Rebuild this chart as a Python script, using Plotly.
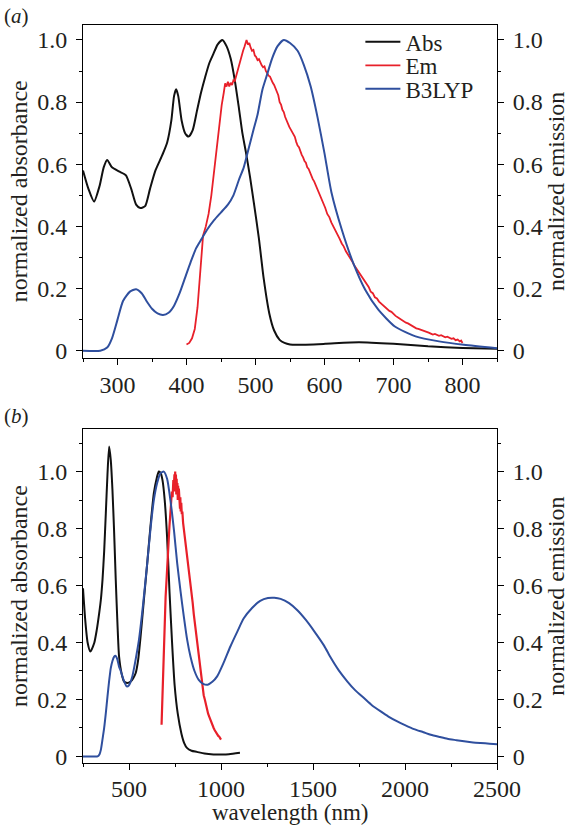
import plotly.graph_objects as go
from plotly.subplots import make_subplots

# ---------------- Panel (a) data ----------------
abs_a_x = [250, 258, 266, 274, 280, 285, 292, 302, 312, 320, 327, 333, 340, 347, 355, 365, 372, 378, 382, 385,
           388, 393, 398, 403, 409, 415, 421, 427, 433, 439, 445, 452, 458, 464, 470, 476, 481, 486, 492, 498,
           505, 512, 520, 527, 535, 542, 550, 560, 600, 650, 700, 750, 800, 850]
abs_a_y = [0.58, 0.52, 0.48, 0.53, 0.59, 0.614, 0.59, 0.577, 0.565, 0.52, 0.47, 0.459, 0.465, 0.52, 0.58, 0.63,
           0.67, 0.74, 0.82, 0.841, 0.82, 0.74, 0.70, 0.689, 0.71, 0.77, 0.83, 0.88, 0.925, 0.955, 0.985, 1.0,
           0.98, 0.94, 0.87, 0.78, 0.70, 0.64, 0.56, 0.47, 0.36, 0.23, 0.12, 0.065, 0.035, 0.025, 0.02, 0.019,
           0.022, 0.027, 0.022, 0.014, 0.009, 0.006]

em_a_x = [400, 404, 408, 412, 416, 420, 424, 428, 432, 436, 440, 444, 448, 451, 454, 456, 458, 460, 462, 464,
          466, 468, 470, 472, 474, 476, 478, 480, 482, 484, 486, 487, 489, 491, 493, 495, 497, 499, 501, 503,
          505, 507, 509, 511, 513, 515, 517, 519, 521, 523, 525, 527, 529, 531, 533, 535, 537, 539, 541, 543,
          545, 547, 549, 551, 553, 555, 557, 559, 561, 563, 565, 567, 569, 571, 573, 575, 577, 579, 581, 583,
          585, 587, 589, 591, 593, 595, 598, 601, 604, 607, 610, 613, 616, 619, 622, 625, 628, 631, 634, 637,
          640, 643, 646, 649, 652, 655, 658, 661, 664, 667, 670, 673, 676, 679, 682, 685, 688, 691, 694, 697,
          700, 703, 706, 709, 712, 715, 718, 721, 724, 727, 730, 733, 736, 739, 742, 745, 748, 751, 754, 757,
          760, 763, 766, 769, 772, 775, 778, 781, 784, 787, 790, 793, 796, 798, 800]
em_a_y = [0.02, 0.025, 0.04, 0.07, 0.14, 0.26, 0.37, 0.40, 0.44, 0.50, 0.58, 0.66, 0.74, 0.79, 0.83, 0.86, 0.85,
          0.865, 0.85, 0.862, 0.855, 0.87, 0.868, 0.885, 0.905, 0.92, 0.94, 0.952, 0.965, 0.978, 0.99, 1.0,
          0.985, 0.99, 0.975, 0.965, 0.968, 0.95, 0.945, 0.935, 0.938, 0.925, 0.918, 0.912, 0.915, 0.90, 0.892,
          0.885, 0.882, 0.87, 0.862, 0.855, 0.845, 0.83, 0.822, 0.80, 0.792, 0.775, 0.768, 0.752, 0.74, 0.728,
          0.72, 0.712, 0.705, 0.695, 0.688, 0.672, 0.66, 0.655, 0.638, 0.63, 0.622, 0.61, 0.605, 0.59, 0.585,
          0.572, 0.565, 0.552, 0.545, 0.535, 0.522, 0.515, 0.50, 0.49, 0.475, 0.46, 0.44, 0.43, 0.412, 0.40,
          0.385, 0.372, 0.36, 0.345, 0.335, 0.32, 0.31, 0.298, 0.288, 0.275, 0.265, 0.255, 0.245, 0.236, 0.225,
          0.212, 0.205, 0.19, 0.185, 0.172, 0.168, 0.158, 0.152, 0.145, 0.14, 0.135, 0.128, 0.125, 0.118, 0.112,
          0.108, 0.103, 0.10, 0.096, 0.09, 0.088, 0.084, 0.078, 0.076, 0.072, 0.07, 0.068, 0.066, 0.062, 0.06,
          0.058, 0.055, 0.052, 0.054, 0.05, 0.048, 0.05, 0.046, 0.043, 0.045, 0.04, 0.038, 0.04, 0.034, 0.036,
          0.03, 0.033, 0.025]

b3_a_x = [250, 275, 285, 292, 300, 308, 318, 327, 335, 342, 350, 358, 366, 374, 382, 390, 398, 406, 414, 422,
          430, 440, 450, 460, 468, 476, 483, 490, 497, 503, 510, 517, 524, 532, 541, 550, 561, 570, 580, 590,
          600, 610, 625, 642, 659, 678, 702, 732, 766, 802, 850]
b3_a_y = [0.0, 0.0, 0.01, 0.04, 0.10, 0.16, 0.19, 0.198, 0.185, 0.16, 0.135, 0.12, 0.115, 0.122, 0.145, 0.185,
          0.235, 0.285, 0.33, 0.36, 0.39, 0.42, 0.445, 0.47, 0.50, 0.55, 0.59, 0.65, 0.71, 0.76, 0.84, 0.89,
          0.94, 0.98, 1.0, 0.99, 0.965, 0.92, 0.85, 0.75, 0.635, 0.51, 0.39, 0.28, 0.196, 0.132, 0.078, 0.046,
          0.03, 0.019, 0.008]

# ---------------- Panel (b) data ----------------
abs_b_x = [250, 262, 275, 290, 311, 325, 338, 347, 356, 365, 374, 383, 392, 401, 410, 419, 428, 437, 446, 460,
           473, 490, 509, 523, 536, 550, 563, 581, 599, 617, 635, 650, 662, 672, 682, 694, 707, 720, 734, 748,
           765, 785, 800, 815, 840, 869, 910, 959, 1000, 1043, 1103]
abs_b_y = [0.59, 0.48, 0.40, 0.368, 0.398, 0.445, 0.503, 0.55, 0.62, 0.72, 0.854, 0.99, 1.088, 1.04, 0.936, 0.79,
           0.62, 0.47, 0.351, 0.29, 0.263, 0.258, 0.263, 0.275, 0.292, 0.34, 0.421, 0.55, 0.678, 0.81, 0.924,
           0.975, 1.0, 0.995, 0.97, 0.9, 0.77, 0.58, 0.40, 0.25, 0.15, 0.08, 0.047, 0.03, 0.02, 0.016, 0.01,
           0.007, 0.007, 0.008, 0.013]

em_b_x = [677, 681, 685, 690, 695, 699, 704, 708, 712, 716, 720, 725, 729, 733, 737, 741, 744, 747, 749, 751,
          753, 755, 757, 759, 761, 763, 765, 767, 769, 771, 773, 775, 777, 779, 781, 784, 787, 790, 794, 798,
          802, 806, 810, 816, 822, 828, 834, 840, 846, 852, 858, 864, 870, 876, 882, 888, 894, 900, 906, 912,
          918, 924, 930, 936, 942, 948, 954, 960, 966, 972, 979, 985, 990, 995, 1000]
em_b_y = [0.111, 0.20, 0.30, 0.40, 0.49, 0.561, 0.62, 0.68, 0.72, 0.77, 0.81, 0.855, 0.88, 0.93, 0.91, 0.97,
          0.95, 0.99, 0.93, 1.0, 0.95, 0.99, 0.92, 0.975, 0.93, 0.96, 0.9, 0.95, 0.91, 0.94, 0.88, 0.925, 0.87,
          0.91, 0.86, 0.89, 0.85, 0.86, 0.82, 0.80, 0.78, 0.75, 0.73, 0.70, 0.665, 0.64, 0.60, 0.575, 0.54,
          0.50, 0.47, 0.43, 0.40, 0.36, 0.33, 0.30, 0.27, 0.245, 0.215, 0.20, 0.18, 0.17, 0.15, 0.14, 0.129,
          0.115, 0.11, 0.10, 0.092, 0.085, 0.08, 0.072, 0.07, 0.062, 0.059]

b3_b_x = [250, 300, 329, 340, 347, 356, 365, 374, 383, 392, 401, 410, 419, 428, 437, 446, 455, 470, 487, 500,
          518, 536, 554, 576, 599, 617, 635, 653, 671, 689, 707, 725, 745, 762, 780, 798, 816, 834, 856, 879,
          903, 928, 953, 979, 1015, 1051, 1090, 1123, 1170, 1213, 1255, 1290, 1324, 1370, 1415, 1460, 1505,
          1560, 1596, 1640, 1687, 1730, 1777, 1820, 1868, 1910, 1958, 2000, 2049, 2100, 2140, 2190, 2230,
          2280, 2321, 2370, 2411, 2460, 2500]
b3_b_y = [0.0, 0.0, 0.0, 0.008, 0.023, 0.06, 0.10, 0.152, 0.21, 0.265, 0.31, 0.335, 0.35, 0.353, 0.34, 0.315,
          0.30, 0.27, 0.246, 0.25, 0.281, 0.34, 0.409, 0.53, 0.678, 0.80, 0.9, 0.96, 0.994, 1.0, 0.975, 0.9,
          0.79, 0.678, 0.58, 0.491, 0.41, 0.351, 0.30, 0.269, 0.255, 0.252, 0.262, 0.281, 0.33, 0.386, 0.44,
          0.484, 0.522, 0.546, 0.556, 0.557, 0.553, 0.538, 0.513, 0.48, 0.441, 0.389, 0.347, 0.302, 0.263,
          0.232, 0.205, 0.18, 0.158, 0.14, 0.123, 0.11, 0.096, 0.085, 0.076, 0.068, 0.062, 0.057, 0.053, 0.049,
          0.047, 0.045, 0.043]

# ---------------- Axis ticks ----------------
y_tickvals = [0, 0.2, 0.4, 0.6, 0.8, 1.0]
y_ticktext = ["0", "0.2", "0.4", "0.6", "0.8", "1.0"]
xa_tickvals = [300, 400, 500, 600, 700, 800]
xb_tickvals = [500, 1000, 1500, 2000, 2500]

colors = {"Abs": "#111111", "Em": "#e8202a", "B3LYP": "#2f4f9e"}

FONT = "Liberation Serif"
TXT = "#231f20"

fig = make_subplots(rows=2, cols=1, specs=[[{"secondary_y": True}], [{"secondary_y": True}]])

LW = 2
SM = dict(shape="spline", smoothing=0.6)
# panel a
fig.add_trace(go.Scatter(x=abs_a_x, y=abs_a_y, name="Abs", mode="lines", line=dict(color=colors["Abs"], width=LW, **SM), legend="legend"), row=1, col=1, secondary_y=False)
fig.add_trace(go.Scatter(x=em_a_x, y=em_a_y, name="Em", mode="lines", line=dict(color=colors["Em"], width=1.8), legend="legend2"), row=1, col=1, secondary_y=True)
fig.add_trace(go.Scatter(x=b3_a_x, y=b3_a_y, name="B3LYP", mode="lines", line=dict(color=colors["B3LYP"], width=LW, **SM), legend="legend3"), row=1, col=1, secondary_y=True)
# panel b
fig.add_trace(go.Scatter(x=abs_b_x, y=abs_b_y, name="Abs", mode="lines", line=dict(color=colors["Abs"], width=LW, **SM), showlegend=False), row=2, col=1, secondary_y=False)
fig.add_trace(go.Scatter(x=em_b_x, y=em_b_y, name="Em", mode="lines", line=dict(color=colors["Em"], width=2.2), showlegend=False), row=2, col=1, secondary_y=True)
fig.add_trace(go.Scatter(x=b3_b_x, y=b3_b_y, name="B3LYP", mode="lines", line=dict(color=colors["B3LYP"], width=LW, **SM), showlegend=False), row=2, col=1, secondary_y=True)

W, H = 573, 826
ML, MR, MT, MB = 83, 76, 25, 63
top_dom = [0.5494, 1.0]
bot_dom = [0.0, 0.4524]

TF = dict(family=FONT, size=24, color=TXT)
axis_common = dict(showline=True, linecolor="black", linewidth=1, ticks="outside", ticklen=6, tickwidth=1,
                   tickcolor="black", showgrid=False, zeroline=False, tickfont=TF, automargin=False)
yminor = dict(ticks="outside", ticklen=3, tickwidth=1, tickcolor="black", dtick=0.1, tick0=0, showgrid=False)

fig.update_layout(
    width=W, height=H, margin=dict(l=ML, r=MR, t=MT, b=MB),
    plot_bgcolor="white", paper_bgcolor="white",
    font=dict(family=FONT, size=24, color=TXT),
    xaxis=dict(**axis_common, range=[250, 850], mirror=True, tickmode="array", tickvals=xa_tickvals,
               minor=dict(ticks="outside", ticklen=3, tickwidth=1, tickcolor="black", dtick=50, tick0=0),
               domain=[0, 1]),
    yaxis=dict(**axis_common, range=[-0.022, 1.048], domain=top_dom, tickmode="array", tickvals=y_tickvals,
               ticktext=y_ticktext, minor=yminor, ticklabelstandoff=4,
               title=dict(text="normalized absorbance", font=TF, standoff=2)),
    yaxis2=dict(**axis_common, range=[-0.022, 1.048], domain=top_dom, side="right", tickmode="array",
                tickvals=y_tickvals, ticktext=y_ticktext, minor=yminor, ticklabelstandoff=4,
                title=dict(text="normalized emission", font=TF, standoff=2)),
    xaxis2=dict(**axis_common, range=[250, 2500], mirror=True, tickmode="array", tickvals=xb_tickvals,
                minor=dict(ticks="outside", ticklen=3, tickwidth=1, tickcolor="black", dtick=250, tick0=0),
                domain=[0, 1], ticklabelstandoff=-2),
    yaxis3=dict(**axis_common, range=[-0.023, 1.149], domain=bot_dom, tickmode="array", tickvals=y_tickvals,
                ticktext=y_ticktext, minor=yminor, ticklabelstandoff=4,
                title=dict(text="normalized absorbance", font=TF, standoff=2)),
    yaxis4=dict(**axis_common, range=[-0.023, 1.149], domain=bot_dom, side="right", tickmode="array",
                tickvals=y_tickvals, ticktext=y_ticktext, minor=yminor, ticklabelstandoff=4,
                title=dict(text="normalized emission", font=TF, standoff=2)),
)

leg_common = dict(x=0.67, xanchor="left", yanchor="middle", bgcolor="rgba(0,0,0,0)", borderwidth=0,
                  font=dict(family=FONT, size=23, color=TXT), itemwidth=35, tracegroupgap=0)
fig.update_layout(
    legend=dict(**leg_common, y=0.9772),
    legend2=dict(**leg_common, y=0.9452),
    legend3=dict(**leg_common, y=0.9134),
)

# x-axis title of panel (b), placed just above the bottom edge of the figure
fig.add_annotation(text="wavelength (nm)", xref="paper", yref="paper", x=0.5, y=-0.0849, xanchor="center",
                   yanchor="bottom", showarrow=False, borderpad=0,
                   font=dict(family=FONT, size=23, color=TXT))

fig.add_annotation(text="(<i>a</i>)", xref="paper", yref="paper", x=-0.196, y=1.031, xanchor="left",
                   yanchor="top", showarrow=False, font=dict(family=FONT, size=21, color=TXT))
fig.add_annotation(text="(<i>b</i>)", xref="paper", yref="paper", x=-0.196, y=0.4894, xanchor="left",
                   yanchor="top", showarrow=False, font=dict(family=FONT, size=21, color=TXT))

# remove the browser's default 8px page margin so the figure sits at the window's top-left corner
fig.write_html("out.html", config={"displayModeBar": False},
               post_script="document.body.style.margin='0';")
